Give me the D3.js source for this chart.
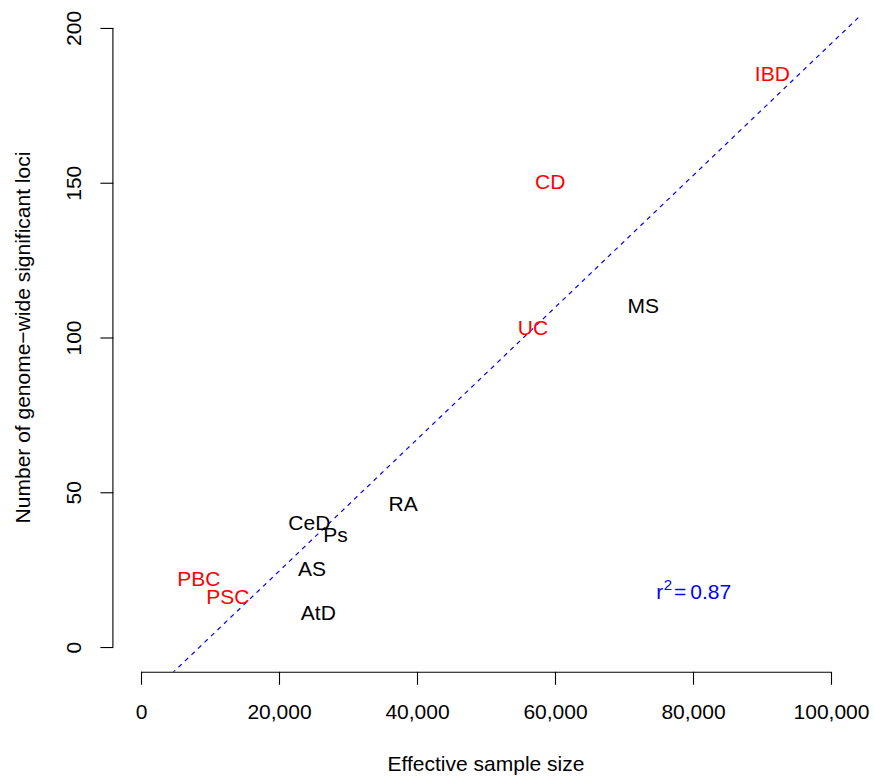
<!DOCTYPE html>
<html>
<head>
<meta charset="utf-8">
<script src="https://cdn.jsdelivr.net/npm/d3@7"></script>
<style>
  html, body { margin: 0; padding: 0; background: #fff; }
  svg { display: block; }
  text { font-family: "Liberation Sans", Arial, Helvetica, sans-serif; }
</style>
</head>
<body>
<svg id="chart" width="874" height="776"></svg>
<script>
// ---- data ----
const diseases   = ["IBD", "CD", "UC", "MS", "RA", "CeD", "Ps", "AS", "AtD", "PBC", "PSC"];
const sampleSize = [91500, 59300, 56800, 72800, 38000, 24400, 28200, 24800, 25700, 8400, 12600];
const lociCount  = [185.4, 150.3, 103.3, 110.3, 46.4, 40.1, 36.3, 25.3, 11.2, 22.3, 16.4];
const isGutGroup = [true, true, true, false, false, false, false, false, false, true, true];
const xTicks = [0, 20000, 40000, 60000, 80000, 100000];
const yTicks = [0, 50, 100, 150, 200];
const fitIntercept = -18.1;
const fitSlope = 0.00213;
const rSquared = "0.87";
const rSquaredPos = [80100, 17.8];

// ---- layout ----
const svg = d3.select("#chart");
const plot = { left: 113.4, right: 858.6, top: 3.2, bottom: 671.8 };
const x = d3.scaleLinear().domain([-4000, 104000]).range([plot.left, plot.right]);
const y = d3.scaleLinear().domain([-8, 208]).range([plot.bottom, plot.top]);
const fs = 21;

svg.append("defs").append("clipPath").attr("id", "clip")
  .append("rect").attr("x", plot.left).attr("y", plot.top)
  .attr("width", plot.right - plot.left).attr("height", plot.bottom - plot.top);

// x axis
const xAxis = d3.axisBottom(x).tickValues(xTicks).tickSize(13).tickPadding(0)
  .tickFormat(d3.format(","));
const gx = svg.append("g").attr("transform", `translate(0,${plot.bottom})`).call(xAxis);
gx.select(".domain").attr("d", `M${x(0)},0.5H${x(100000)}`).attr("stroke", "#000");
gx.selectAll(".tick line").attr("stroke", "#000");
gx.selectAll(".tick text").attr("y", 0).attr("dy", 0)
  .attr("transform", "translate(0,47)")
  .attr("font-size", fs).attr("fill", "#000")
  .style("font-family", '"Liberation Sans", Arial, sans-serif');

// y axis
const yAxis = d3.axisLeft(y).tickValues(yTicks).tickSize(13).tickPadding(0);
const gy = svg.append("g").attr("transform", `translate(${plot.left},0)`).call(yAxis);
gy.select(".domain").attr("d", `M-0.5,${y(0)}V${y(200)}`).attr("stroke", "#000");
gy.selectAll(".tick line").attr("stroke", "#000");
gy.selectAll(".tick text")
  .attr("x", 0).attr("dy", 0)
  .attr("transform", "translate(-32,0) rotate(-90)")
  .attr("text-anchor", "middle")
  .attr("font-size", fs).attr("fill", "#000")
  .style("font-family", '"Liberation Sans", Arial, sans-serif');
svg.selectAll(".domain, .tick line").attr("stroke-width", 1.1);

// axis titles
svg.append("text").attr("x", (plot.left + plot.right) / 2).attr("y", 771)
  .attr("text-anchor", "middle").attr("font-size", fs).text("Effective sample size");
svg.append("text").attr("transform", `translate(30,${(y(0) + y(200)) / 2}) rotate(-90)`)
  .attr("text-anchor", "middle").attr("font-size", fs)
  .text("Number of genome\u2212wide significant loci");

// regression line
svg.append("line").attr("clip-path", "url(#clip)")
  .attr("x1", x(-4000)).attr("y1", y(fitIntercept + fitSlope * -4000))
  .attr("x2", x(104000)).attr("y2", y(fitIntercept + fitSlope * 104000))
  .attr("stroke", "#0000ff").attr("stroke-width", 1.2).attr("stroke-dasharray", "4.5,4.5");

// point labels
const pts = diseases.map((d, i) => ({ name: d, n: sampleSize[i], k: lociCount[i], red: isGutGroup[i] }));
svg.append("g").selectAll("text").data(pts).join("text")
  .attr("x", d => x(d.n)).attr("y", d => y(d.k) + 0.358 * fs)
  .attr("text-anchor", "middle").attr("font-size", fs)
  .attr("fill", d => d.red ? "#ff0000" : "#000000")
  .text(d => d.name);

// r^2 annotation
const rt = svg.append("text")
  .attr("x", x(rSquaredPos[0])).attr("y", y(rSquaredPos[1]) + 0.358 * fs)
  .attr("text-anchor", "middle").attr("font-size", fs).attr("fill", "#0000ff");
rt.append("tspan").text("r");
rt.append("tspan").attr("font-size", 15).attr("dy", -9).attr("dx", 0.5).text("2");
rt.append("tspan").attr("dy", 9).attr("dx", 2).text("=");
rt.append("tspan").attr("dx", 4).text(rSquared);
</script>
</body>
</html>
